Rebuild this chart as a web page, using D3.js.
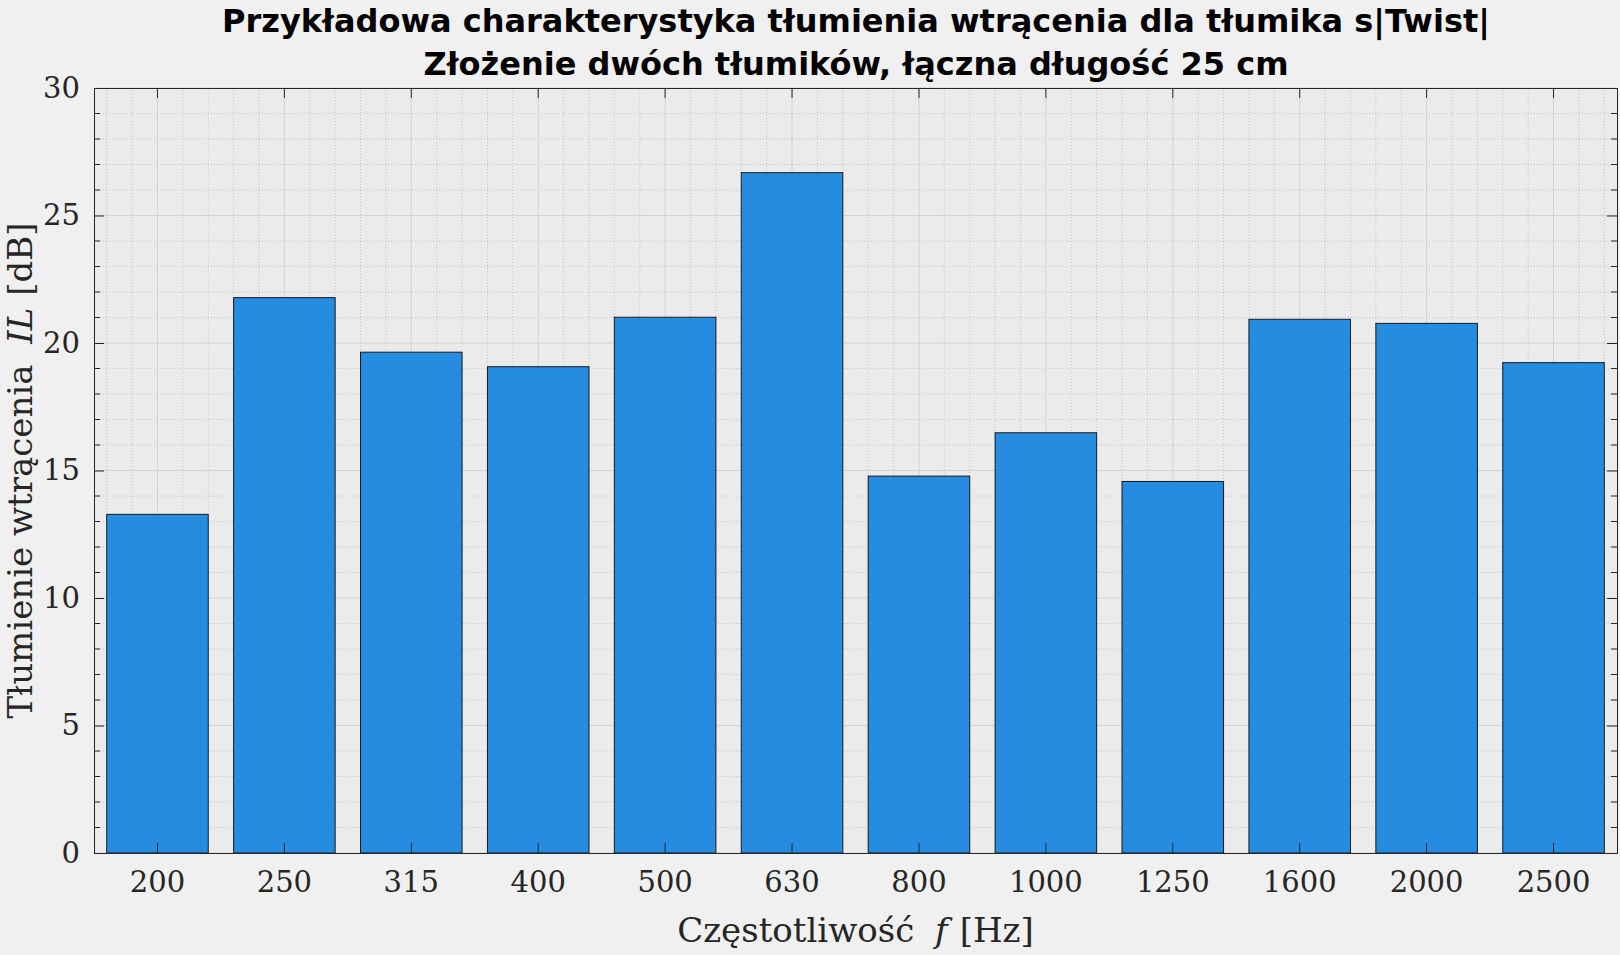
<!DOCTYPE html>
<html>
<head>
<meta charset="utf-8">
<script src="https://cdn.jsdelivr.net/npm/d3@7"></script>
<style>
  body { margin: 0; background: #f0f0f0; }
</style>
</head>
<body>
<div id="chart"></div>
<script>
// Data
const frequencies = ['200', '250', '315', '400', '500', '630', '800', '1000', '1250', '1600', '2000', '2500'];
const insertionLoss = [13.28, 21.78, 19.64, 19.07, 21.01, 26.68, 14.78, 16.48, 14.57, 20.93, 20.77, 19.23];
const yTicks = [0, 5, 10, 15, 20, 25, 30];

const W = 1620, H = 955;
const margin = { top: 88, right: 3, bottom: 102, left: 94 };
const width = W - margin.left - margin.right;
const height = H - margin.top - margin.bottom;

const svg = d3.select('#chart').append('svg')
    .attr('width', W).attr('height', H)
    .style('background', '#f0f0f0');

const g = svg.append('g').attr('transform', `translate(${margin.left},${margin.top})`);

const x = d3.scaleBand().domain(frequencies).range([0, width]).paddingInner(0.2).paddingOuter(0.1);
const step = x.step();
const y = d3.scaleLinear().domain([0, 30]).range([height, 0]);

// plot background
g.append('rect').attr('width', width).attr('height', height).attr('fill', '#ebebeb');

// minor grid
const yMinor = d3.range(0, 31, 1).filter(v => v % 5 !== 0);
g.selectAll('.ymin').data(yMinor).enter().append('line')
    .attr('x1', 0).attr('x2', width).attr('y1', d => y(d)).attr('y2', d => y(d))
    .attr('stroke', '#c4c4c4').attr('stroke-dasharray', '1,2');
const xMinor = [];
frequencies.forEach(f => {
    const c = x(f) + x.bandwidth() / 2;
    for (let k = -2; k <= 2; k++) if (k !== 0) xMinor.push(c + k * step / 5);
});
g.selectAll('.xmin').data(xMinor.filter(v => v > 0 && v < width)).enter().append('line')
    .attr('x1', d => d).attr('x2', d => d).attr('y1', 0).attr('y2', height)
    .attr('stroke', '#c4c4c4').attr('stroke-dasharray', '1,2');

// major grid
g.selectAll('.ymaj').data(yTicks).enter().append('line')
    .attr('x1', 0).attr('x2', width).attr('y1', d => y(d)).attr('y2', d => y(d))
    .attr('stroke', '#d2d2d2');
g.selectAll('.xmaj').data(frequencies).enter().append('line')
    .attr('x1', d => x(d) + x.bandwidth() / 2).attr('x2', d => x(d) + x.bandwidth() / 2)
    .attr('y1', 0).attr('y2', height).attr('stroke', '#d2d2d2');

// bars
g.selectAll('.bar').data(insertionLoss).enter().append('rect')
    .attr('x', (d, i) => x(frequencies[i]))
    .attr('y', d => y(d))
    .attr('width', x.bandwidth())
    .attr('height', d => height - y(d))
    .attr('fill', '#258ce0')
    .attr('stroke', '#1a1a1a').attr('stroke-width', 1);

// axes
const tickFont = '"DejaVu Serif", serif';
const yAxis = g.append('g').call(d3.axisLeft(y).tickValues(yTicks).tickSize(-10).tickPadding(14));
const yAxisR = g.append('g').attr('transform', `translate(${width},0)`)
    .call(d3.axisRight(y).tickValues(yTicks).tickSize(-10).tickFormat(''));
const xAxis = g.append('g').attr('transform', `translate(0,${height})`)
    .call(d3.axisBottom(x).tickSize(-10).tickPadding(18));
const xAxisT = g.append('g').call(d3.axisTop(x).tickSize(-10).tickFormat(''));
[yAxis, yAxisR, xAxis, xAxisT].forEach(a => {
    a.select('.domain').attr('stroke', '#262626');
    a.selectAll('.tick line').attr('stroke', '#262626');
    a.selectAll('text').attr('font-family', tickFont).attr('font-size', 29).attr('fill', '#262626');
});
// minor ticks on the y axes
g.selectAll('.ymt').data(yMinor).enter().append('line')
    .attr('x1', 0).attr('x2', 6).attr('y1', d => y(d)).attr('y2', d => y(d)).attr('stroke', '#262626');
g.selectAll('.ymt2').data(yMinor).enter().append('line')
    .attr('x1', width - 6).attr('x2', width).attr('y1', d => y(d)).attr('y2', d => y(d)).attr('stroke', '#262626');

// labels
svg.append('text')
    .attr('x', margin.left + width / 2).attr('y', 942)
    .attr('text-anchor', 'middle').attr('font-family', tickFont).attr('font-size', 34).attr('fill', '#262626')
    .html('Częstotliwość <tspan font-style="italic" dx="10">f</tspan><tspan dx="12">[Hz]</tspan>');
svg.append('text')
    .attr('transform', `translate(32,${margin.top + height / 2}) rotate(-90)`)
    .attr('text-anchor', 'middle').attr('font-family', tickFont).attr('font-size', 34).attr('fill', '#262626')
    .html('Tłumienie wtrącenia <tspan font-style="italic" dx="10">IL</tspan><tspan dx="12">[dB]</tspan>');

const titleFont = '"DejaVu Sans", sans-serif';
svg.append('text').attr('x', 856).attr('y', 32).attr('text-anchor', 'middle')
    .attr('font-family', titleFont).attr('font-weight', 'bold').attr('font-size', 32).attr('fill', '#000')
    .text('Przykładowa charakterystyka tłumienia wtrącenia dla tłumika s|Twist|');
svg.append('text').attr('x', 856).attr('y', 75).attr('text-anchor', 'middle')
    .attr('font-family', titleFont).attr('font-weight', 'bold').attr('font-size', 32).attr('fill', '#000')
    .text('Złożenie dwóch tłumików, łączna długość 25 cm');
</script>
</body>
</html>
